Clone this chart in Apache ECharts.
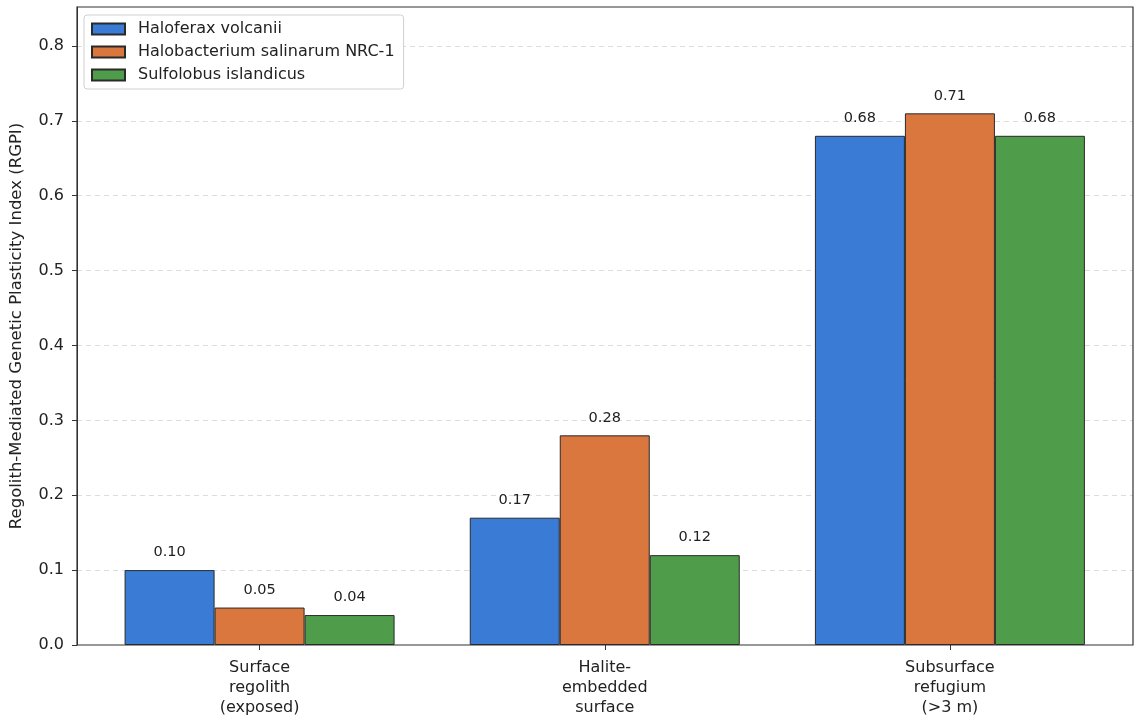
<!DOCTYPE html>
<html><head><meta charset="utf-8">
<script src="https://cdn.jsdelivr.net/npm/echarts@6/dist/echarts.min.js"></script>
<style>html,body{margin:0;padding:0;background:#fff}#c{width:1138px;height:719px}</style>
</head><body><div id="c"></div>
<script>
const categories = ["Surface\nregolith\n(exposed)", "Halite-\nembedded\nsurface", "Subsurface\nrefugium\n(>3 m)"];
const seriesNames = ["Haloferax volcanii", "Halobacterium salinarum NRC-1", "Sulfolobus islandicus"];
const haloferax = [0.10, 0.17, 0.68];
const halobacterium = [0.05, 0.28, 0.71];
const sulfolobus = [0.04, 0.12, 0.68];
const yTicks = [0, 0.1, 0.2, 0.3, 0.4, 0.5, 0.6, 0.7, 0.8];
const colors = ["#3A7CD5", "#D9773F", "#4F9D4A"];
const values = [haloferax, halobacterium, sulfolobus];
const FONT = "DejaVu Sans";
const yMax = 0.852;

const chart = echarts.init(document.getElementById('c'), null, {renderer: 'canvas'});
chart.setOption({
  animation: false,
  textStyle: {fontFamily: FONT},
  grid: [
    {left: 77, right: 5, top: 7, bottom: 74, show: true, borderColor: '#333', borderWidth: 1.2, backgroundColor: 'transparent', z: 3},
    {left: 87, right: 15.5, top: 7, bottom: 74}
  ],
  legend: {
    data: seriesNames,
    left: 84, top: 15, orient: 'vertical', z: 20,
    icon: 'rect',
    itemWidth: 33, itemHeight: 11, itemGap: 5,
    padding: [5, 9, 5, 7],
    backgroundColor: 'rgba(255,255,255,0.9)',
    borderColor: '#d0d0d0', borderWidth: 1, borderRadius: 3,
    textStyle: {fontFamily: FONT, fontSize: 16, color: '#222', lineHeight: 18, padding: [0, 0, 0, 8]}
  },
  xAxis: [
    {type: 'value', gridIndex: 0, min: 0, max: 1, show: false},
    {type: 'category', gridIndex: 1, data: categories,
     axisLine: {show: false},
     axisTick: {show: true, alignWithLabel: true, length: 5, lineStyle: {color: '#333'}},
     axisLabel: {fontFamily: FONT, fontSize: 16, color: '#222', lineHeight: 20, margin: 13}}
  ],
  yAxis: [
    {type: 'value', gridIndex: 0, min: 0, max: yMax, interval: 0.1,
     name: 'Regolith-Mediated Genetic Plasticity Index (RGPI)',
     nameLocation: 'middle', nameGap: 52,
     nameTextStyle: {fontFamily: FONT, fontSize: 16.5, color: '#222'},
     axisLine: {show: true, lineStyle: {color: '#333'}},
     axisTick: {show: true, length: 5, lineStyle: {color: '#333'}, customValues: yTicks},
     axisLabel: {fontFamily: FONT, fontSize: 16, color: '#222', margin: 13,
       customValues: yTicks, formatter: v => Number(v).toFixed(1)},
     splitLine: {show: true, showMinLine: false, showMaxLine: true,
       lineStyle: {color: '#dcdcdc', type: [5, 4], width: 1}}},
    {type: 'value', gridIndex: 1, min: 0, max: yMax, show: false, splitLine: {show: false}}
  ],
  series: seriesNames.map((n, i) => ({
    name: n, type: 'bar', xAxisIndex: 1, yAxisIndex: 1, z: 4,
    data: values[i], barWidth: 90, barGap: '0%',
    itemStyle: {color: colors[i], borderColor: '#2a2a2a', borderWidth: 1},
    label: {show: true, position: 'top', distance: 10, fontFamily: FONT, fontSize: 14.5, color: '#222',
      formatter: p => p.value.toFixed(2)}
  }))
});
</script></body></html>
